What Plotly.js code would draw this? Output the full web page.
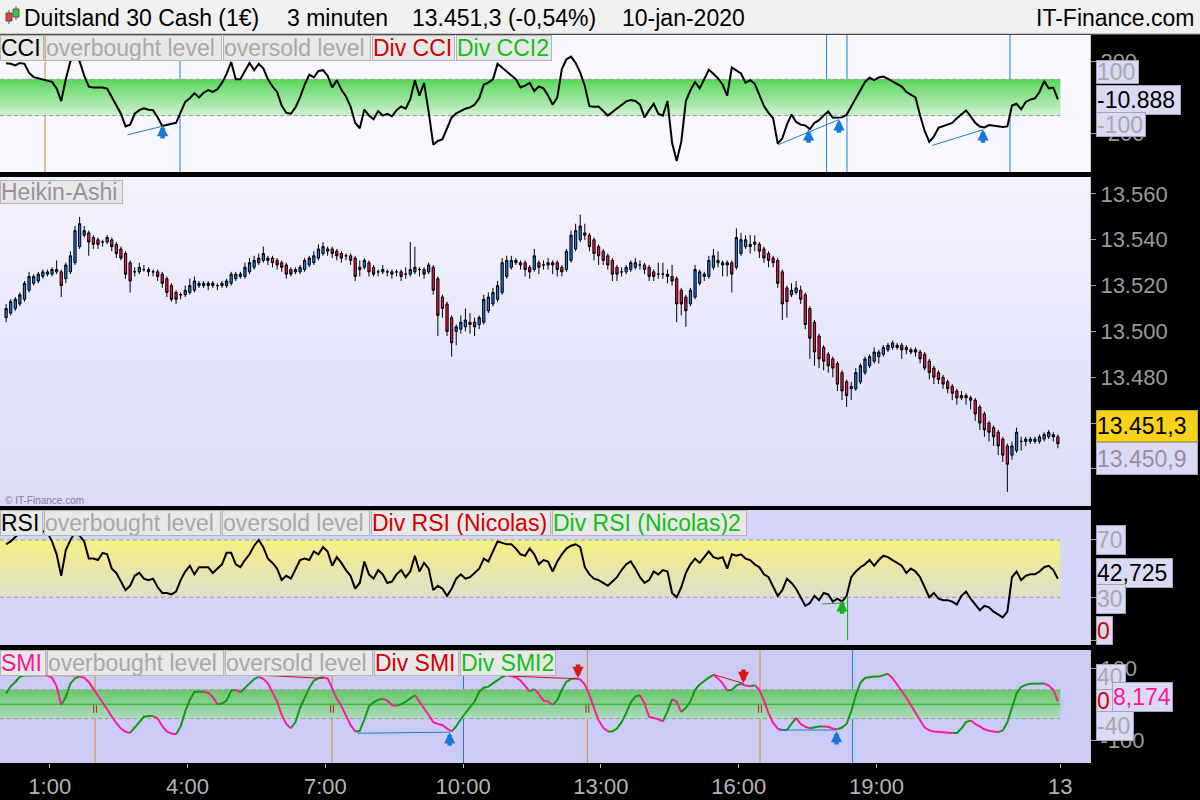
<!DOCTYPE html>
<html><head><meta charset="utf-8">
<script src="https://cdn.plot.ly/plotly-3.0.1.min.js"></script>
<style>html,body{margin:0;padding:0;background:#000;}#chart{width:1200px;height:800px;}</style>
</head><body><div id="chart"></div>
<script>
// ---------- DATA (Heikin-Ashi, 6-minute steps, price offsets from BASE) ----------
const BASE = 13400;
const START_HOUR = 0.05, STEP_HOURS = 0.1;
const haOpen = [106,108,110,112,114,118,121,122,124,125,125,126,126,123,126,130,137,142,143,141,140,139,139,140,138,136,134,130,126,126,127,127,126,126,125,123,120,117,116,116,117,118,120,120,120,120,120,120,120,121,123,124,124,126,128,130,131,132,132,131,130,129,127,126,126,127,129,130,132,134,136,136,135,134,133,133,132,128,128,130,128,126,126,126,126,126,126,125,125,126,127,127,126,128,123,115,112,106,100,101,102,104,104,103,104,109,112,114,117,124,128,130,130,130,128,127,130,129,129,130,130,128,127,131,136,140,143,142,140,137,135,133,131,128,126,126,127,128,129,129,128,126,125,125,125,124,123,118,115,112,115,121,124,124,128,130,130,130,130,128,134,137,138,138,138,136,134,132,131,126,119,116,117,118,116,110,104,98,93,90,88,86,82,78,75,75,78,82,85,87,89,90,92,93,94,94,93,92,92,91,90,87,84,82,80,78,76,74,72,72,71,70,67,64,60,58,56,53,50,46,48,52,52,52,52,52,53,54,55,54];
const haHigh = [112,114,115,117,122,126,125,126,127,127,128,131,127,130,135,146,150,146,144,142,141,140,142,141,139,137,135,131,128,130,129,128,127,127,126,124,121,118,117,120,123,124,122,122,122,122,121,122,123,126,126,126,130,132,133,134,137,133,133,132,131,130,128,128,129,132,133,135,138,139,137,137,136,135,134,134,133,131,132,131,129,127,129,127,127,127,127,128,139,137,128,128,130,129,124,116,113,107,103,107,110,108,106,107,116,117,119,122,132,133,133,132,131,131,129,136,131,131,132,131,131,129,136,144,147,151,147,143,141,138,136,134,132,129,128,129,131,132,131,130,129,127,130,130,127,129,124,119,116,119,129,127,126,133,136,135,131,131,131,145,143,142,142,142,139,137,135,133,132,127,120,121,122,120,117,111,105,99,94,91,89,87,83,79,78,84,86,89,90,93,92,94,95,96,95,95,94,93,93,92,91,88,85,83,81,79,77,75,74,73,72,71,68,65,61,59,57,54,51,52,58,54,54,54,54,55,56,57,56,55];
const haLow = [104,107,109,111,113,117,120,121,123,124,124,125,115,121,125,129,136,141,133,136,136,137,138,135,132,131,123,117,124,125,126,124,124,122,119,115,113,112,114,115,116,117,119,119,118,119,118,119,119,120,122,123,123,125,127,129,130,129,128,127,126,123,124,125,125,126,128,129,131,133,133,132,131,130,131,129,122,124,127,124,124,124,125,124,123,124,122,123,124,125,124,123,125,116,98,106,98,89,94,99,100,99,98,101,103,108,111,113,116,123,127,129,127,124,123,126,125,127,127,125,124,124,126,130,135,139,140,135,131,129,129,127,122,122,124,125,126,127,127,125,122,122,123,123,121,120,104,107,102,111,114,120,122,123,127,128,124,124,117,127,133,136,134,135,132,130,128,128,119,105,106,115,116,112,101,88,85,84,83,82,80,74,70,67,70,74,77,81,84,86,86,89,91,92,92,88,90,90,89,86,83,79,77,77,75,73,70,68,70,68,66,61,57,54,52,50,46,43,30,44,47,48,50,51,51,51,52,53,52,49];
const haClose = [110,113,114,116,121,124,124,125,126,126,127,127,120,129,133,144,147,144,139,138,138,139,141,137,134,132,125,122,126,128,127,126,126,124,121,117,114,114,116,118,120,122,121,121,121,121,120,121,122,125,125,125,128,130,131,132,134,131,130,129,128,125,125,127,128,131,132,133,136,137,135,134,133,132,133,131,124,127,131,126,125,126,127,126,125,126,124,125,127,128,127,125,129,118,107,110,100,95,102,104,105,103,102,106,114,115,117,120,130,131,131,131,129,127,126,133,128,129,130,129,127,126,135,142,144,146,142,137,134,133,131,129,125,125,126,128,130,130,129,127,124,124,125,125,124,122,112,112,109,118,127,126,125,131,133,131,129,129,125,141,140,140,137,139,135,132,131,130,121,112,113,118,119,114,103,97,91,88,87,85,84,77,74,72,76,82,85,88,89,91,91,93,94,95,93,92,92,91,91,88,84,82,80,79,77,75,73,71,71,71,70,64,60,57,56,54,50,46,42,50,56,52,53,53,53,54,55,56,54,51];
// ---------- indicators ----------
const cci = [188,185,176,190,185,135,112,105,96,89,86,50,-20,100,200,222,200,120,60,54,55,54,48,0,-42,-90,-160,-150,-90,-70,-60,-68,-70,-110,-158,-150,-145,-140,-80,-25,-5,24,0,26,40,30,45,80,130,195,100,100,145,190,150,185,160,100,60,30,-45,-85,-90,-55,0,70,125,110,146,150,120,55,95,42,5,-50,-140,-170,-67,-100,-120,-75,-100,-90,-105,-70,-50,-62,-10,95,10,80,-80,-260,-240,-230,-170,-110,-88,-75,-62,-55,-40,-5,70,82,100,185,165,140,125,100,55,65,80,35,60,50,10,-40,0,156,210,225,190,137,63,-48,-52,-50,-75,-100,-80,-60,-40,-22,-15,-20,-40,-110,-70,-35,-90,-100,-20,-250,-350,-245,-20,40,85,50,100,152,130,105,70,10,165,150,132,80,95,75,10,-48,-85,-115,-255,-225,-150,-94,-135,-150,-155,-175,-141,-125,-100,-78,-112,-113,-110,-96,-50,-5,44,85,108,95,110,115,102,88,72,60,30,17,0,-100,-185,-245,-215,-168,-160,-150,-141,-115,-95,-72,-105,-140,-160,-165,-152,-155,-159,-163,-160,-45,-35,-65,-25,-12,-5,30,90,50,54,-11];
const rsi = [67,69,72,75,76,77,76,75,76,75,69,60,45,63,70,75,73,69,57,57,56,61,60,50,47,41,35,38,45,47,43,42,43,37,33,33,32,34,42,48,52,46,51,51,51,47,50,53,61,61,53,51,56,60,66,70,65,57,54,50,42,45,43,50,56,57,56,62,60,65,62,52,58,54,49,45,36,40,55,46,43,49,46,40,41,46,49,44,48,59,48,54,50,35,38,36,31,36,43,46,43,44,47,50,57,55,62,69,68,67,67,64,60,59,64,60,53,56,55,48,55,60,64,66,67,65,51,46,43,42,40,38,41,44,49,53,55,50,44,40,42,48,46,49,48,33,30,37,47,53,57,54,58,62,58,57,58,50,60,59,60,57,56,53,51,46,44,38,31,35,43,40,36,30,24,26,31,28,33,32,27,29,27,31,44,48,51,53,56,52,56,59,58,56,54,52,47,50,48,44,37,30,33,29,28,28,27,25,31,34,29,25,21,24,23,20,18,16,20,44,48,42,45,46,46,48,51,52,49,43];
const smi = [30,50,62,77,80,81,81,81,81,80,74,50,-2,20,58,72,77,74,62,43,25,5,-13,-34,-53,-68,-77,-80,-66,-50,-35,-33,-33,-40,-61,-76,-82,-84,-62,-20,12,35,35,35,32,20,0,2,10,38,40,33,45,58,70,76,71,58,33,8,-30,-55,-67,-50,-10,20,45,66,72,75,72,45,15,-5,-33,-58,-76,-75,-42,-6,5,12,15,10,-3,-4,0,7,15,25,8,-12,-30,-50,-55,-58,-68,-76,-62,-42,-24,-8,7,35,46,49,58,68,76,81,79,75,66,52,36,42,28,10,8,-2,12,40,63,70,72,69,55,26,-10,-45,-65,-76,-76,-68,-50,-25,5,22,25,2,-35,-38,-42,-48,-20,14,7,-22,-10,8,40,55,65,74,82,72,58,38,40,52,57,52,50,53,40,10,-25,-52,-68,-72,-72,-55,-38,-55,-63,-67,-64,-62,-62,-63,-68,-70,-65,-55,-20,25,60,73,76,77,77,80,85,72,55,38,18,-2,-25,-45,-65,-73,-76,-77,-78,-79,-80,-80,-68,-50,-45,-55,-62,-70,-74,-77,-78,-73,-50,-10,30,48,54,57,58,58,58,52,40,8];
// ---------- ticks, labels, signals ----------
const xTickVals = [1,4,7,10,13,16,19,23];
const xTickText = ['1:00','4:00','7:00','10:00','13:00','16:00','19:00','13'];
const priceTicks = [13440,13460,13480,13500,13520,13540,13560];
const priceTicksHidden = [13440,13460];
const cciLevels = [-100,100], rsiLevels = [30,70], smiLevels = [-40,40];
const cciSignalOrange = [0.897], cciSignalBlue = [3.836,17.914,18.358,21.907];
const cciDivBull = [[2.691,-206,3.457,-159],[16.856,-261,18.184,-122],[20.209,-265,21.319,-178]];
const cciArrowUp = [[3.457,-152],[17.522,-176],[18.184,-120],[21.319,-176]];
const rsiDivBull = [[17.814,25.4,18.315,26]];
const rsiArrowUp = [[18.25,28]];
const rsiSignal = [18.371];
const smiSignalOrange = [1.986,7.146,12.706,16.464], smiSignalBlue = [10.009,18.48];
const smiDivBear = [[1.158,80,1.659,79],[5.578,81,6.95,72],[11.086,78,12.502,71],[15.441,83,16.105,58]];
const smiDivBull = [[7.703,-81,9.708,-78],[16.856,-72,18.13,-72]];
const smiArrowDown = [[12.502,73],[16.105,59]];
const smiArrowUp = [[9.708,-78],[18.13,-75]];
const titleParts = ['Duitsland 30 Cash (1€)','3 minuten','13.451,3 (-0,54%)','10-jan-2020'];
const siteName = 'IT-Finance.com';
const lastPrice = '13.451,3', lastHA = '13.450,9', lastCCI = '-10.888', lastRSI = '42,725', lastSMI = '8,174';
const cciLegend = ['CCI','overbought level','oversold level','Div CCI','Div CCI2'];
const rsiLegend = ['RSI','overbought level','oversold level','Div RSI (Nicolas)','Div RSI (Nicolas)2'];
const smiLegend = ['SMI','overbought level','oversold level','Div SMI','Div SMI2'];

// ---------- build ----------
const W = 1200, H = 800;
const px = x => x / W, py = y => 1 - y / H;
const hours = haClose.map((_, i) => START_HOUR + STEP_HOURS * i);
const price = a => a.map(v => BASE + v);
const FONT = 'Liberation Sans, Arial, sans-serif';
const XR = [-0.083, 23.649];
const BAND_X1 = hours[hours.length - 1] + STEP_HOURS / 2;
const dom = {
  cci: [py(172), py(35)], ha: [py(506), py(177)], rsi: [py(645), py(510)], smi: [py(763), py(650)]
};
const shapes = [], annotations = [];

// title bar
shapes.push({type:'rect', xref:'paper', yref:'paper', x0:0, x1:1, y0:py(34), y1:1, fillcolor:'#f0f0f0', line:{width:0}, layer:'below'});
shapes.push({type:'line', xref:'paper', yref:'paper', x0:0, x1:1, y0:py(34), y1:py(34), line:{color:'#9a9a9a', width:1}});
// title icon
shapes.push({type:'line', xref:'paper', yref:'paper', x0:px(9), x1:px(9), y0:py(10), y1:py(24), line:{color:'#555', width:1}});
shapes.push({type:'rect', xref:'paper', yref:'paper', x0:px(6), x1:px(12), y0:py(13), y1:py(21), fillcolor:'#e83c3c', line:{color:'#555', width:1}});
shapes.push({type:'line', xref:'paper', yref:'paper', x0:px(16), x1:px(16), y0:py(6), y1:py(20), line:{color:'#555', width:1}});
shapes.push({type:'rect', xref:'paper', yref:'paper', x0:px(13), x1:px(19), y0:py(9), y1:py(17), fillcolor:'#3cc83c', line:{color:'#555', width:1}});

// panel backgrounds
const XD = 1090 / W;
function bgRect(d, color) {
  shapes.push({type:'rect', xref:'paper', yref:'paper', x0:0, x1:XD, y0:d[0], y1:d[1], fillcolor:color, line:{width:0}, layer:'below'});
}
function mix(c1, c2, f) {
  return 'rgb(' + c1.map((v, i) => Math.round(v + (c2[i] - v) * f)).join(',') + ')';
}
bgRect(dom.cci, '#f7f7ff');
// Heikin-Ashi gradient: solid base first, then pixel-aligned bands (no dark seams)
bgRect(dom.ha, '#e7e7fb');
const HA_TOP = 177, HA_BOT = 506, HB_PX = 7;
for (let y = HA_TOP; y < HA_BOT; y += HB_PX) {
  const y2 = Math.min(y + HB_PX, HA_BOT), f = 1 - ((y + y2) / 2 - HA_TOP) / (HA_BOT - HA_TOP);
  shapes.push({type:'rect', xref:'paper', yref:'paper', x0:0, x1:XD, y0:py(y2), y1:py(y), fillcolor:mix([219,219,247],[243,243,255],f), line:{width:0}, layer:'below'});
}
bgRect(dom.rsi, '#d6d6f9');
bgRect(dom.smi, '#cbcbf5');

// gradient bands between levels
function band(yref, lo, hi, cBottom, cTop) {
  const n = 20;
  shapes.push({type:'rect', xref:'x', yref:yref, x0:XR[0], x1:BAND_X1, y0:lo, y1:hi, fillcolor:mix(cBottom, cTop, 0.5), line:{width:0}, layer:'below'});
  for (let k = 0; k < n; k++) {
    const a = lo + (hi - lo) * k / n, b = lo + (hi - lo) * (k + 1) / n;
    shapes.push({type:'rect', xref:'x', yref:yref, x0:XR[0], x1:BAND_X1, y0:a, y1:b, fillcolor:mix(cBottom, cTop, (k + 0.5) / n), line:{width:0}, layer:'below'});
  }
}
band('y', cciLevels[0], cciLevels[1], [210,242,214], [86,214,86]);
band('y3', rsiLevels[0], rsiLevels[1], [222,222,206], [244,240,128]);
band('y4', smiLevels[0], smiLevels[1], [178,220,198], [100,198,100]);
function hline(yref, v, color, dash) {
  shapes.push({type:'line', xref:'x', yref:yref, x0:XR[0], x1:BAND_X1, y0:v, y1:v, line:{color:color, width:1, dash:dash}, layer:'below'});
}
cciLevels.forEach(v => hline('y', v, '#9c9c9c', '4px,3px'));
rsiLevels.forEach(v => hline('y3', v, '#9c9c9c', '4px,3px'));
smiLevels.forEach(v => hline('y4', v, '#9c9c9c', '4px,3px'));
hline('y4', 0, '#22aa22', 'solid');

// signal verticals
function vline(yref, t, color) {
  shapes.push({type:'line', xref:'x', yref:yref + ' domain', x0:t, x1:t, y0:0, y1:1, line:{color:color, width:1}, layer:'below'});
}
cciSignalOrange.forEach(t => vline('y', t, '#d98a1a'));
cciSignalBlue.forEach(t => vline('y', t, '#1e7fd0'));
smiSignalOrange.forEach(t => vline('y4', t, '#d98a1a'));
smiSignalBlue.forEach(t => vline('y4', t, '#1e7fd0'));
rsiSignal.forEach(t => shapes.push({type:'line', xref:'x', yref:'y3', x0:t, x1:t, y0:0, y1:rsiLevels[0], line:{color:'#10b010', width:1}}));
smiSignalOrange.forEach(t => [-0.03, 0.03].forEach(d => shapes.push({type:'line', xref:'x', yref:'y4', x0:t + d, x1:t + d, y0:-3, y1:-24, line:{color:'#d01010', width:1}})));

// divergence lines
function seg(yref, s, color) {
  shapes.push({type:'line', xref:'x', yref:yref, x0:s[0], y0:s[1], x1:s[2], y1:s[3], line:{color:color, width:1}});
}
cciDivBull.forEach(s => seg('y', s, '#1e7fd0'));
rsiDivBull.forEach(s => seg('y3', s, '#10b010'));
smiDivBear.forEach(s => seg('y4', s, '#d01010'));
smiDivBull.forEach(s => seg('y4', s, '#1e7fd0'));

// block arrows
function arrow(yref, p, color, up) {
  annotations.push({xref:'x', yref:yref, x:p[0], y:p[1], ax:0, ay:up ? 15 : -15, showarrow:true, arrowhead:2, arrowsize:0.5, arrowwidth:4.5, arrowcolor:color, text:'', standoff:0});
}
cciArrowUp.forEach(p => arrow('y', p, '#1a78d8', true));
rsiArrowUp.forEach(p => arrow('y3', p, '#18b018', true));
smiArrowUp.forEach(p => arrow('y4', p, '#1a78d8', true));
smiArrowDown.forEach(p => arrow('y4', p, '#d81818', false));

// text boxes
function box(x0, y0, x1, y1, text, color, bg, border, size) {
  annotations.push({xref:'paper', yref:'paper', x:px(x0), y:py(y0), xanchor:'left', yanchor:'top',
    width:x1 - x0 - 2, height:y1 - y0 - 2, text:text, align:'left', valign:'middle', showarrow:false,
    font:{family:FONT, size:size || 23, color:color}, bgcolor:bg, bordercolor:border, borderwidth:1, borderpad:0});
}
const legendColors = (c0) => [c0, '#a8a8a8', '#a8a8a8', '#d00000', '#10c010'];
function legendRow(labels, xs, y0, y1, c0) {
  const cols = legendColors(c0);
  labels.forEach((t, i) => box(xs[i][0], y0, xs[i][1], y1, t, cols[i], '#e8e8e8', '#b4b4b4'));
}
legendRow(cciLegend, [[0,44],[45,222],[223,371],[372,455],[456,552]], 35, 61, '#000');
legendRow(rsiLegend, [[0,43],[44,221],[222,370],[371,551],[552,747]], 510, 536, '#000');
legendRow(smiLegend, [[0,46],[47,224],[225,373],[374,459],[460,556]], 650, 676, '#ff1493');
box(0, 180, 123, 204, 'Heikin-Ashi', '#a08ca0', '#e8e8e8', '#b4b4b4');

// right-side value badges
const LAV = '#dadaf4', LB = '#a4a4b8';
box(1096, 60, 1139, 84, '100', '#a8a8a8', LAV, LB);
box(1096, 85, 1181, 115, lastCCI, '#000', LAV, LB);
box(1096, 112, 1146, 137, '-100', '#a8a8a8', LAV, LB);
box(1096, 410, 1198, 442, lastPrice, '#000', '#f8d218', '#c8a800');
box(1096, 442, 1198, 475, lastHA, '#9c8ca0', LAV, LB);
box(1096, 525, 1126, 555, '70', '#a8a8a8', LAV, LB);
box(1096, 558, 1173, 588, lastRSI, '#000', LAV, LB);
box(1096, 584, 1126, 614, '30', '#a8a8a8', LAV, LB);
box(1096, 616, 1113, 645, '0', '#d00000', LAV, LB);
box(1096, 664, 1126, 690, '40', '#a8a8a8', LAV, LB);
box(1112, 682, 1173, 712, lastSMI, '#ff1493', LAV, LB);
box(1096, 689, 1113, 712, '0', '#d00000', LAV, LB);
box(1096, 711, 1134, 741, '-40', '#a8a8a8', LAV, LB);

// title texts
const titleX = [22, 285, 410, 620];
titleParts.forEach((t, i) => annotations.push({xref:'paper', yref:'paper', x:px(titleX[i]), y:py(18), xanchor:'left', yanchor:'middle', text:t, showarrow:false, font:{family:FONT, size:23, color:'#000'}}));
annotations.push({xref:'paper', yref:'paper', x:px(1197), y:py(18), xanchor:'right', yanchor:'middle', text:siteName, showarrow:false, font:{family:FONT, size:23, color:'#000'}});
annotations.push({xref:'paper', yref:'paper', x:px(3), y:py(500), xanchor:'left', yanchor:'middle', text:'© IT-Finance.com', showarrow:false, font:{family:FONT, size:10, color:'#8080a0'}});

// SMI colour runs (green rising, pink falling)
function runs(xs, ys, rising) {
  const ox = [], oy = [];
  for (let i = 1; i < ys.length; i++) {
    const r = ys[i] >= ys[i - 1];
    if (r !== rising) continue;
    if (!ox.length || ox[ox.length - 1] !== xs[i - 1]) {
      if (ox.length) { ox.push(null); oy.push(null); }
      ox.push(xs[i - 1]); oy.push(ys[i - 1]);
    }
    ox.push(xs[i]); oy.push(ys[i]);
  }
  return [ox, oy];
}
const smiUp = runs(hours, smi, true), smiDown = runs(hours, smi, false);

const data = [
  {type:'scatter', mode:'lines', x:hours, y:cci, xaxis:'x', yaxis:'y', line:{color:'#000', width:2}, hoverinfo:'skip'},
  {type:'candlestick', x:hours, open:price(haOpen), high:price(haHigh), low:price(haLow), close:price(haClose), xaxis:'x', yaxis:'y2',
    increasing:{line:{color:'#000', width:1}, fillcolor:'#1c78e4'}, decreasing:{line:{color:'#000', width:1}, fillcolor:'#ec1844'}, whiskerwidth:0, hoverinfo:'skip'},
  {type:'scatter', mode:'lines', x:hours, y:rsi, xaxis:'x', yaxis:'y3', line:{color:'#000', width:2}, hoverinfo:'skip'},
  {type:'scatter', mode:'lines', x:smiUp[0], y:smiUp[1], xaxis:'x', yaxis:'y4', line:{color:'#109a10', width:2}, connectgaps:false, hoverinfo:'skip'},
  {type:'scatter', mode:'lines', x:smiDown[0], y:smiDown[1], xaxis:'x', yaxis:'y4', line:{color:'#ff1a9c', width:2}, connectgaps:false, hoverinfo:'skip'}
];

function yAxis(extra) {
  return Object.assign({side:'right', anchor:'x', showgrid:false, zeroline:false, showline:true,
    linecolor:'#c8c8d0', linewidth:1, ticks:'outside', ticklen:5, tickcolor:'#a0a0a0',
    tickfont:{family:FONT, size:22, color:'#9a9a9a'}, fixedrange:true}, extra);
}
const layout = {
  width:W, height:H, margin:{l:0, r:0, t:0, b:0}, paper_bgcolor:'#000', plot_bgcolor:'rgba(0,0,0,0)',
  showlegend:false, hovermode:false, font:{family:FONT},
  xaxis:{domain:[0, XD], range:XR, anchor:'y4', tickmode:'array', tickvals:xTickVals, ticktext:xTickText, ticks:'outside', ticklen:4,
    tickcolor:'#c0c0c0', tickfont:{family:FONT, size:22, color:'#b4b4b4'}, showgrid:false, zeroline:false, showline:false,
    rangeslider:{visible:false}, fixedrange:true},
  yaxis:yAxis({domain:dom.cci, range:[-411, 344], tickmode:'array', tickvals:[-200, 200], ticktext:['-200', '200']}),
  yaxis2:yAxis({domain:dom.ha, range:[13423.8, 13567.4], tickmode:'array', tickvals:priceTicks,
    ticktext:priceTicks.map(v => priceTicksHidden.includes(v) ? '' : (v / 1000).toFixed(3))}),
  yaxis3:yAxis({domain:dom.rsi, range:[-3.27, 90.9], tickmode:'array', tickvals:[0, 30, 70], ticktext:['', '', '']}),
  yaxis4:yAxis({domain:dom.smi, range:[-164, 151.2], tickmode:'array', tickvals:[-100, 100], ticktext:['-100', '100']}),
  shapes:shapes, annotations:annotations
};
const lens = [haOpen, haHigh, haLow, haClose, cci, rsi, smi].map(a => a.length);
if (new Set(lens).size > 1) annotations.push({xref:'paper', yref:'paper', x:0.5, y:0.5, text:'LEN ' + lens.join(','), showarrow:false, font:{size:30, color:'red'}});
Plotly.newPlot('chart', data, layout, {staticPlot:true});
</script></body></html>
